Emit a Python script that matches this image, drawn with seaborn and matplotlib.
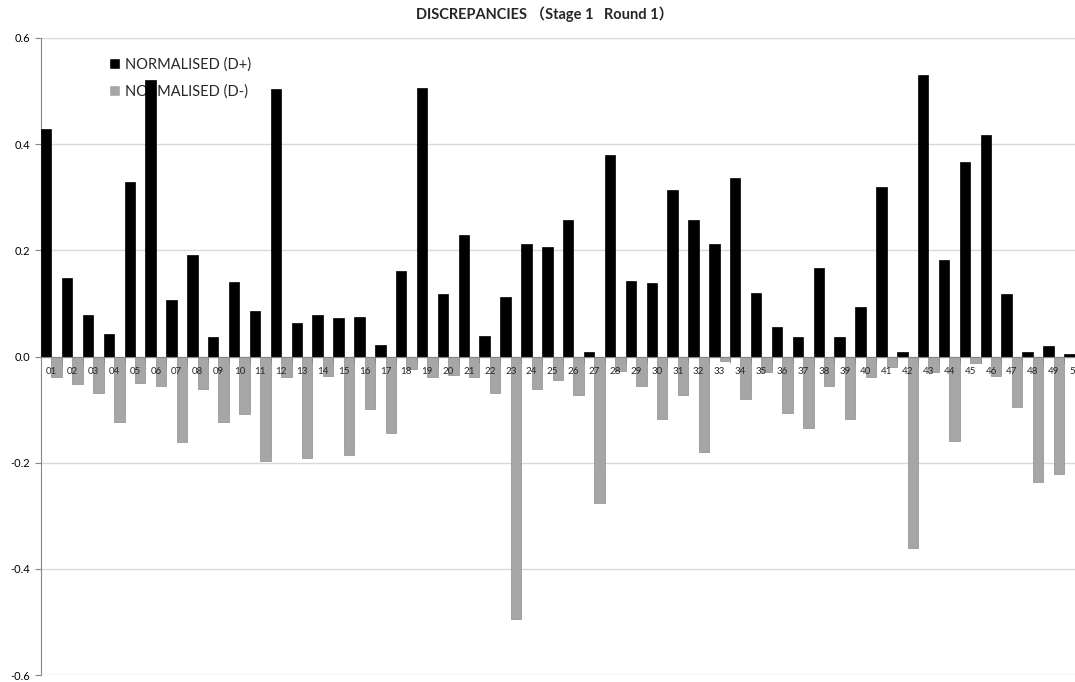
import matplotlib
matplotlib.use("Agg")
import matplotlib.pyplot as plt
import seaborn as sns
import pandas as pd
from matplotlib.ticker import FixedLocator, FormatStrFormatter

# Category codes and the two normalised discrepancy series
categories = [f"{i:02d}" for i in range(1, 51)]
d_plus = [0.429, 0.147, 0.079, 0.043, 0.329, 0.521, 0.107, 0.192, 0.036, 0.141,
          0.085, 0.504, 0.064, 0.079, 0.073, 0.075, 0.021, 0.162, 0.506, 0.117,
          0.229, 0.038, 0.113, 0.211, 0.207, 0.258, 0.009, 0.380, 0.143, 0.139,
          0.314, 0.258, 0.211, 0.337, 0.120, 0.056, 0.036, 0.166, 0.036, 0.094,
          0.320, 0.009, 0.530, 0.181, 0.367, 0.418, 0.118, 0.008, 0.019, 0.004]
d_minus = [-0.039, -0.051, -0.068, -0.124, -0.049, -0.055, -0.162, -0.062, -0.124, -0.109,
           -0.197, -0.039, -0.192, -0.036, -0.186, -0.098, -0.145, -0.023, -0.039, -0.034,
           -0.039, -0.068, -0.495, -0.062, -0.045, -0.073, -0.276, -0.028, -0.056, -0.117,
           -0.073, -0.179, -0.009, -0.081, -0.030, -0.107, -0.134, -0.056, -0.118, -0.039,
           -0.019, -0.361, -0.030, -0.160, -0.013, -0.036, -0.096, -0.237, -0.222, -0.329]
series_names = ["NORMALISED (D+)", "NORMALISED (D-)"]
y_ticks = [-0.6, -0.4, -0.2, 0.0, 0.2, 0.4, 0.6]

df = pd.DataFrame({
    "category": categories * 2,
    "series": [series_names[0]] * len(categories) + [series_names[1]] * len(categories),
    "value": d_plus + d_minus,
})

sns.set_style("white")
plt.rcParams["font.family"] = ["Lato", "Noto Sans CJK SC", "DejaVu Sans"]

fig = plt.figure(figsize=(10.75, 6.82), dpi=100)
# The plot area runs slightly past the right edge of the canvas
ax = fig.add_axes([41 / 1075, 1 - 675 / 682, 1044 / 1075, (675 - 38) / 682])

sns.barplot(data=df, x="category", y="value", hue="series", order=categories,
            hue_order=series_names, palette=["#000000", "#A6A6A6"],
            saturation=1, width=1.0, gap=0, errorbar=None, ax=ax, zorder=3)

for cont, ec in zip(ax.containers, ["#000000", "#8C8C8C"]):
    for bar in cont:
        bar.set_edgecolor(ec)
        bar.set_linewidth(0.5)

ax.set_xlim(-0.5, len(categories) - 0.5)
ax.set_ylim(-0.6, 0.6)
ax.set_xlabel("")
ax.set_ylabel("")

# Value axis
ax.yaxis.set_major_locator(FixedLocator(y_ticks))
ax.yaxis.set_major_formatter(FormatStrFormatter("%.1f"))
ax.tick_params(axis="y", length=4, color="#868686", labelsize=8, pad=4,
               labelcolor="#000000", left=True)
ax.grid(axis="y", color="#D9D9D9", linewidth=1, zorder=0)
ax.set_axisbelow(True)

# Category axis runs along zero, its labels drawn over the bars
ax.spines["bottom"].set_position(("data", 0))
ax.spines["bottom"].set_color("#868686")
ax.spines["bottom"].set_zorder(4)
ax.spines["left"].set_color("#868686")
ax.spines["top"].set_visible(False)
ax.spines["right"].set_visible(False)
ax.set_xticks(range(len(categories)))
ax.set_xticklabels(categories)
ax.set_xticks([i - 0.5 for i in range(len(categories) + 1)], minor=True)
ax.tick_params(axis="x", which="major", length=0, labelsize=7, pad=7.5)
ax.tick_params(axis="x", which="minor", length=4, color="#868686", bottom=True)
ax.xaxis.set_zorder(5)

fig.text(545 / 1075, 1 - 14 / 682, "DISCREPANCIES （Stage 1   Round 1）",
         ha="center", va="center", fontsize=10.5, fontweight="bold")

leg = ax.legend(loc="upper left", bbox_to_anchor=(109 / 1075, 1 - 57 / 682),
                bbox_transform=fig.transFigure, frameon=False, fontsize=10.5,
                handlelength=0.75, handleheight=0.75, handletextpad=0.35,
                labelspacing=0.9, borderpad=0, borderaxespad=0)
leg.set_zorder(1)

fig.savefig("out.png", dpi=100)
